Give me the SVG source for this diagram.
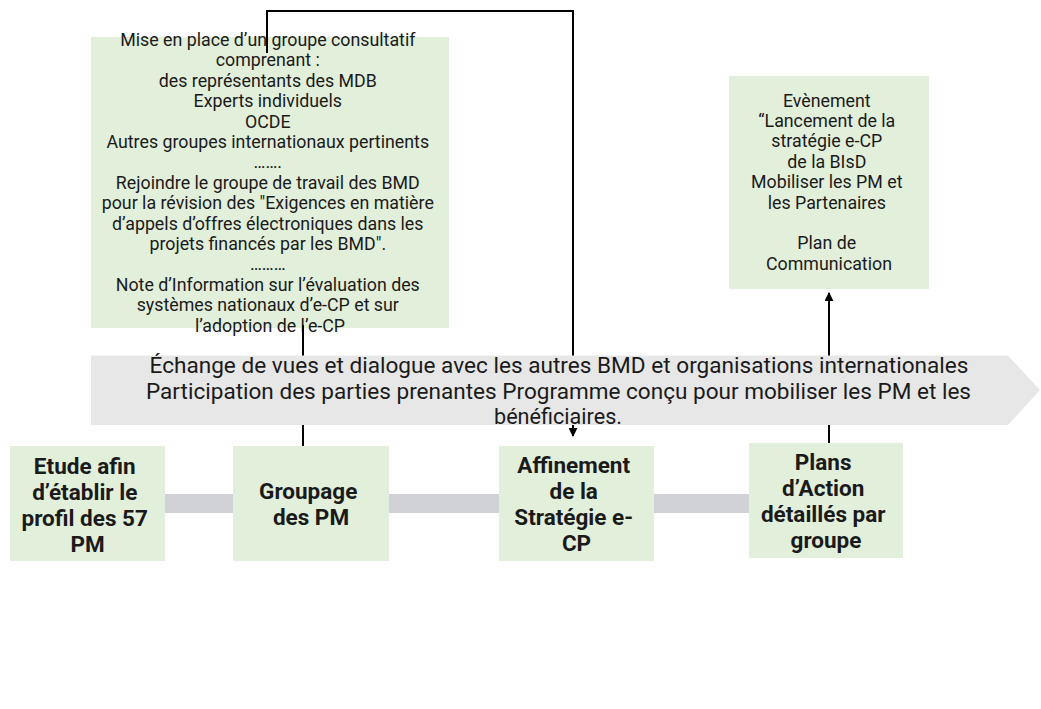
<svg xmlns="http://www.w3.org/2000/svg" width="1041" height="709" viewBox="0 0 1041 709">
<style>
.box{fill:#e2efda;}
.t{font-family:Roboto,"Liberation Sans",sans-serif;font-size:17.8px;fill:#1a1a1a;text-anchor:middle;}
.b{font-family:Roboto,"Liberation Sans",sans-serif;font-size:22.5px;font-weight:bold;fill:#1a1a1a;text-anchor:middle;}
.band{font-family:Roboto,"Liberation Sans",sans-serif;font-size:22.5px;fill:#1a1a1a;text-anchor:middle;}
.ln{stroke:#000;stroke-width:2;fill:none;}
</style>
<defs>
<marker id="ah" viewBox="0 0 10 10" refX="9" refY="5" markerWidth="4.5" markerHeight="4.5" orient="auto" markerUnits="strokeWidth">
<path d="M0,0 L10,5 L0,10 z" fill="#000"/>
</marker>
</defs>
<rect width="1041" height="709" fill="#fff"/>

<g id="bar"><rect x="160" y="494" width="595" height="19" fill="#d1d1d8"/></g>

<g id="consultatif">
<rect class="box" x="91" y="37" width="358" height="291"/>
<text class="t">
<tspan x="270" y="46">Mise en place d’un groupe consultatif</tspan>
<tspan x="270" y="66.4">comprenant :</tspan>
<tspan x="270" y="86.8">des représentants des MDB</tspan>
<tspan x="270" y="107.2">Experts individuels</tspan>
<tspan x="270" y="127.6">OCDE</tspan>
<tspan x="270" y="148">Autres groupes internationaux pertinents</tspan>
<tspan x="270" y="168.4">…….</tspan>
<tspan x="270" y="188.8">Rejoindre le groupe de travail des BMD</tspan>
<tspan x="270" y="209.2">pour la révision des "Exigences en matière</tspan>
<tspan x="270" y="229.6">d’appels d’offres électroniques dans les</tspan>
<tspan x="270" y="250">projets financés par les BMD".</tspan>
<tspan x="270" y="270.4">………</tspan>
<tspan x="270" y="290.8">Note d’Information sur l’évaluation des</tspan>
<tspan x="270" y="311.2">systèmes nationaux d’e-CP et sur</tspan>
<tspan x="270" y="331.6">l’adoption de l’e-CP</tspan>
</text>
</g>

<g id="evenement">
<rect class="box" x="729" y="76" width="200" height="213"/>
<text class="t">
<tspan x="829" y="106.7">Evènement</tspan>
<tspan x="829" y="127">“Lancement de la</tspan>
<tspan x="829" y="147.4">stratégie e-CP</tspan>
<tspan x="829" y="167.8">de la BIsD</tspan>
<tspan x="829" y="188.2">Mobiliser les PM et</tspan>
<tspan x="829" y="208.6">les Partenaires</tspan>
<tspan x="829" y="249.4">Plan de</tspan>
<tspan x="829" y="269.8">Communication</tspan>
</text>
</g>

<g id="connectors">
<path class="ln" d="M267,53 V11 H573 V436" marker-end="url(#ah)"/>
<path class="ln" d="M303,325 V446"/>
<path class="ln" d="M829,443 V293" marker-end="url(#ah)"/>
</g>

<g id="echange">
<polygon points="91,355.5 1008,355.5 1040,390 1008,425 91,425" fill="#e7e7e7"/>
<text class="band" x="559" y="373" textLength="819" lengthAdjust="spacingAndGlyphs">Échange de vues et dialogue  avec les autres BMD et organisations  internationales</text>
<text class="band" x="558.5" y="398.5" textLength="825" lengthAdjust="spacingAndGlyphs">Participation  des parties prenantes Programme  conçu pour mobiliser les PM et les</text>
<text class="band" x="558" y="424" textLength="128" lengthAdjust="spacingAndGlyphs">bénéficiaires.</text>
</g>

<g id="etude">
<rect class="box" x="10" y="446" width="155" height="115"/>
<text class="b">
<tspan x="87.5" y="474">Etude afin</tspan>
<tspan x="87.5" y="500">d’établir le</tspan>
<tspan x="87.5" y="526">profil des 57</tspan>
<tspan x="87.5" y="552">PM</tspan>
</text>
</g>

<g id="groupage">
<rect class="box" x="233" y="446" width="156" height="115"/>
<text class="b">
<tspan x="311" y="499">Groupage</tspan>
<tspan x="311" y="525">des PM</tspan>
</text>
</g>

<g id="affinement">
<rect class="box" x="499" y="446" width="155" height="115"/>
<text class="b">
<tspan x="576.5" y="473">Affinement</tspan>
<tspan x="576.5" y="499">de la</tspan>
<tspan x="576.5" y="525">Stratégie e-</tspan>
<tspan x="576.5" y="551">CP</tspan>
</text>
</g>

<g id="plans">
<rect class="box" x="749" y="443" width="154" height="115"/>
<text class="b">
<tspan x="826" y="470">Plans</tspan>
<tspan x="826" y="496">d’Action</tspan>
<tspan x="826" y="522">détaillés par</tspan>
<tspan x="826" y="548">groupe</tspan>
</text>
</g>
</svg>
